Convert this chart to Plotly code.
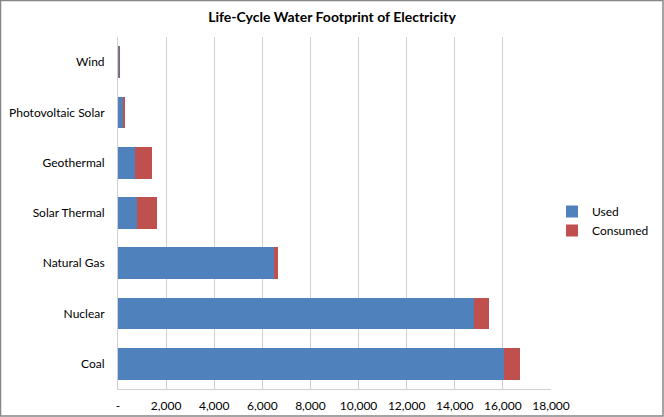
import plotly.graph_objects as go

categories = ["Coal", "Nuclear", "Natural Gas", "Solar Thermal", "Geothermal", "Photovoltaic Solar", "Wind"]
used = [16030, 14810, 6480, 810, 715, 245, 75]
consumed = [700, 600, 180, 800, 690, 5, 5]
tick_vals = [0, 2000, 4000, 6000, 8000, 10000, 12000, 14000, 16000, 18000]
tick_text = ["-", "2,000", "4,000", "6,000", "8,000", "10,000", "12,000", "14,000", "16,000", "18,000"]

W, H = 664, 417
L, R, T, B = 118, 113, 37, 28
pw, ph = W - L - R, H - T - B

font = "Lato, 'Open Sans', sans-serif"

fig = go.Figure()
fig.add_trace(go.Bar(y=categories, x=used, name="Used", orientation="h",
                     marker=dict(color="#4F81BD", line=dict(width=0))))
fig.add_trace(go.Bar(y=categories, x=consumed, name="Consumed", orientation="h",
                     marker=dict(color="#C0504D", line=dict(width=0))))

fig.update_layout(
    width=W, height=H,
    margin=dict(l=L, r=R, t=T, b=B, autoexpand=False),
    barmode="stack", bargap=0.37,
    paper_bgcolor="white", plot_bgcolor="white",
    font=dict(family=font, size=12, color="#000000"),
    title=dict(text="<b>Life-Cycle Water Footprint of Electricity</b>", x=0.5, xref="container",
               xanchor="center", y=1 - 17 / H, yanchor="middle", font=dict(size=14, family=font)),
    legend=dict(x=(552 - L) / pw, y=(H - B - 221) / ph, xanchor="left", yanchor="middle",
                traceorder="normal", font=dict(size=12, family=font), itemwidth=30,
                tracegroupgap=0, bgcolor="rgba(0,0,0,0)"),
    xaxis=dict(range=[0, 18000], tickvals=tick_vals, ticktext=tick_text,
               showgrid=True, gridcolor="#D0D0D0", gridwidth=1, zeroline=False,
               showline=True, linecolor="#D0D0D0", linewidth=1, automargin=False,
               ticks="", tickfont=dict(size=12, family=font), ticklabelstandoff=6),
    yaxis=dict(showgrid=False, showline=True, linecolor="#D0D0D0", linewidth=1, automargin=False,
               ticks="", tickfont=dict(size=12, family=font), ticklabelstandoff=10,
               zeroline=False),
    shapes=[dict(type="rect", xref="paper", yref="paper",
                 x0=-L / pw + 0.5 / pw, x1=1 + (R - 1) / pw,
                 y0=-B / ph + 1 / ph, y1=1 + (T - 0.5) / ph,
                 line=dict(color="#868686", width=1.5), fillcolor="rgba(0,0,0,0)", layer="above")],
)

fig.write_html("out.html", config={"displayModeBar": False},
               post_script="document.body.style.margin='0';document.body.style.overflow='hidden';")
